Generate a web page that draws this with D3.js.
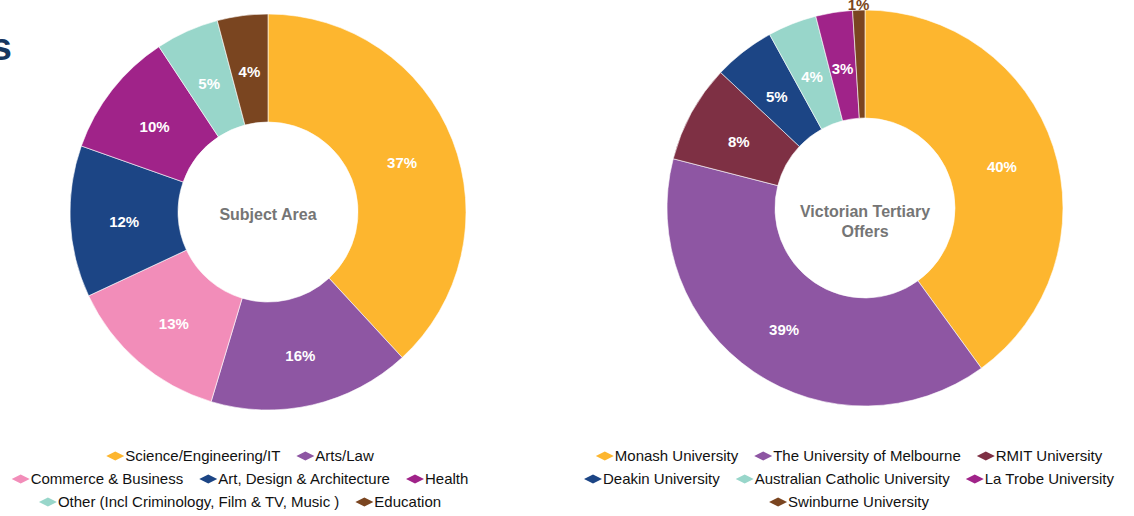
<!DOCTYPE html>
<html>
<head>
<meta charset="utf-8">
<script src="https://cdn.jsdelivr.net/npm/d3@7"></script>
<style>
  body { margin: 0; background: #fff; }
  svg { display: block; font-family: "Liberation Sans", Arial, sans-serif; }
</style>
</head>
<body>
<svg id="chart" width="1134" height="516"></svg>
<script>
// data, left donut
var subjectNames = ["Science/Engineering/IT", "Arts/Law", "Commerce & Business",
  "Art, Design & Architecture", "Health", "Other (Incl Criminology, Film & TV, Music )", "Education"];
var subjectValues = [37, 16, 13, 12, 10, 5, 4];
var subjectColors = ["#fdb62f", "#8e56a3", "#f28db9", "#1c4585", "#a02389", "#98d6ca", "#7a4520"];
var subjectRows = [[0, 1], [2, 3, 4], [5, 6]];

// data, right donut
var uniNames = ["Monash University", "The University of Melbourne", "RMIT University",
  "Deakin University", "Australian Catholic University", "La Trobe University", "Swinburne University"];
var uniValues = [40, 39, 8, 5, 4, 3, 1];
var uniColors = ["#fdb62f", "#8e56a3", "#7e3044", "#1c4585", "#98d6ca", "#a02389", "#7a4520"];
var uniRows = [[0, 1, 2], [3, 4, 5], [6]];

var svg = d3.select("#chart");

// cut off title at the far left
svg.append("text")
  .attr("x", 12).attr("y", 60)
  .attr("text-anchor", "end")
  .attr("font-size", 38).attr("font-weight", "bold")
  .attr("fill", "#16365f")
  .text("s");

function donut(cx, cy, values, colors, centerLines, centerY, outsideIdx) {
  var rOut = 198, rIn = 90;
  var g = svg.append("g").attr("transform", "translate(" + cx + "," + cy + ")");
  var pie = d3.pie().sort(null).value(function(d) { return d; });
  var arc = d3.arc().innerRadius(rIn).outerRadius(rOut);
  var lab = d3.arc().innerRadius(rIn + 8).outerRadius(rOut - 8);
  var outer = d3.arc().innerRadius(rOut + 8).outerRadius(rOut + 8);
  var arcs = pie(values);

  g.selectAll("path")
    .data(arcs)
    .enter()
    .append("path")
    .attr("d", arc)
    .attr("fill", function(d, i) { return colors[i]; })
    .attr("stroke", "#fff")
    .attr("stroke-width", 0.6);

  g.selectAll("text.val")
    .data(arcs)
    .enter()
    .append("text")
    .attr("class", "val")
    .attr("transform", function(d, i) {
      var p = (i == outsideIdx) ? outer.centroid(d) : lab.centroid(d);
      return "translate(" + p[0] + "," + (p[1] + 3) + ")";
    })
    .attr("text-anchor", "middle")
    .attr("dy", "0.35em")
    .attr("font-size", 15).attr("font-weight", "bold")
    .attr("fill", function(d, i) { return i == outsideIdx ? colors[i] : "#fff"; })
    .text(function(d) { return d.data + "%"; });

  centerLines.forEach(function(t, i) {
    g.append("text")
      .attr("x", 0).attr("y", centerY + i * 20)
      .attr("dy", "0.35em")
      .attr("text-anchor", "middle")
      .attr("font-size", 16).attr("font-weight", "bold")
      .attr("fill", "#757575")
      .text(t);
  });
}

function legend(cx, y0, names, colors, rows) {
  var g = svg.append("g");
  rows.forEach(function(row, r) {
    var rowG = g.append("g");
    var x = 0;
    row.forEach(function(idx, k) {
      if (k > 0) x += 16;
      rowG.append("path")
        .attr("d", "M" + x + ",0 L" + (x + 9) + ",-4.5 L" + (x + 18) + ",0 L" + (x + 9) + ",4.5 Z")
        .attr("fill", colors[idx]);
      var t = rowG.append("text")
        .attr("x", x + 19).attr("y", 0)
        .attr("dy", "0.35em")
        .attr("font-size", 15)
        .attr("fill", "#111")
        .text(names[idx]);
      x += 19 + t.node().getComputedTextLength();
    });
    rowG.attr("transform", "translate(" + (cx - x / 2) + "," + (y0 + r * 23) + ")");
  });
}

donut(268, 212, subjectValues, subjectColors, ["Subject Area"], 2, -1);
donut(865, 208, uniValues, uniColors, ["Victorian Tertiary", "Offers"], 3, 6);

legend(240, 456, subjectNames, subjectColors, subjectRows);
legend(849, 456, uniNames, uniColors, uniRows);
</script>
</body>
</html>
